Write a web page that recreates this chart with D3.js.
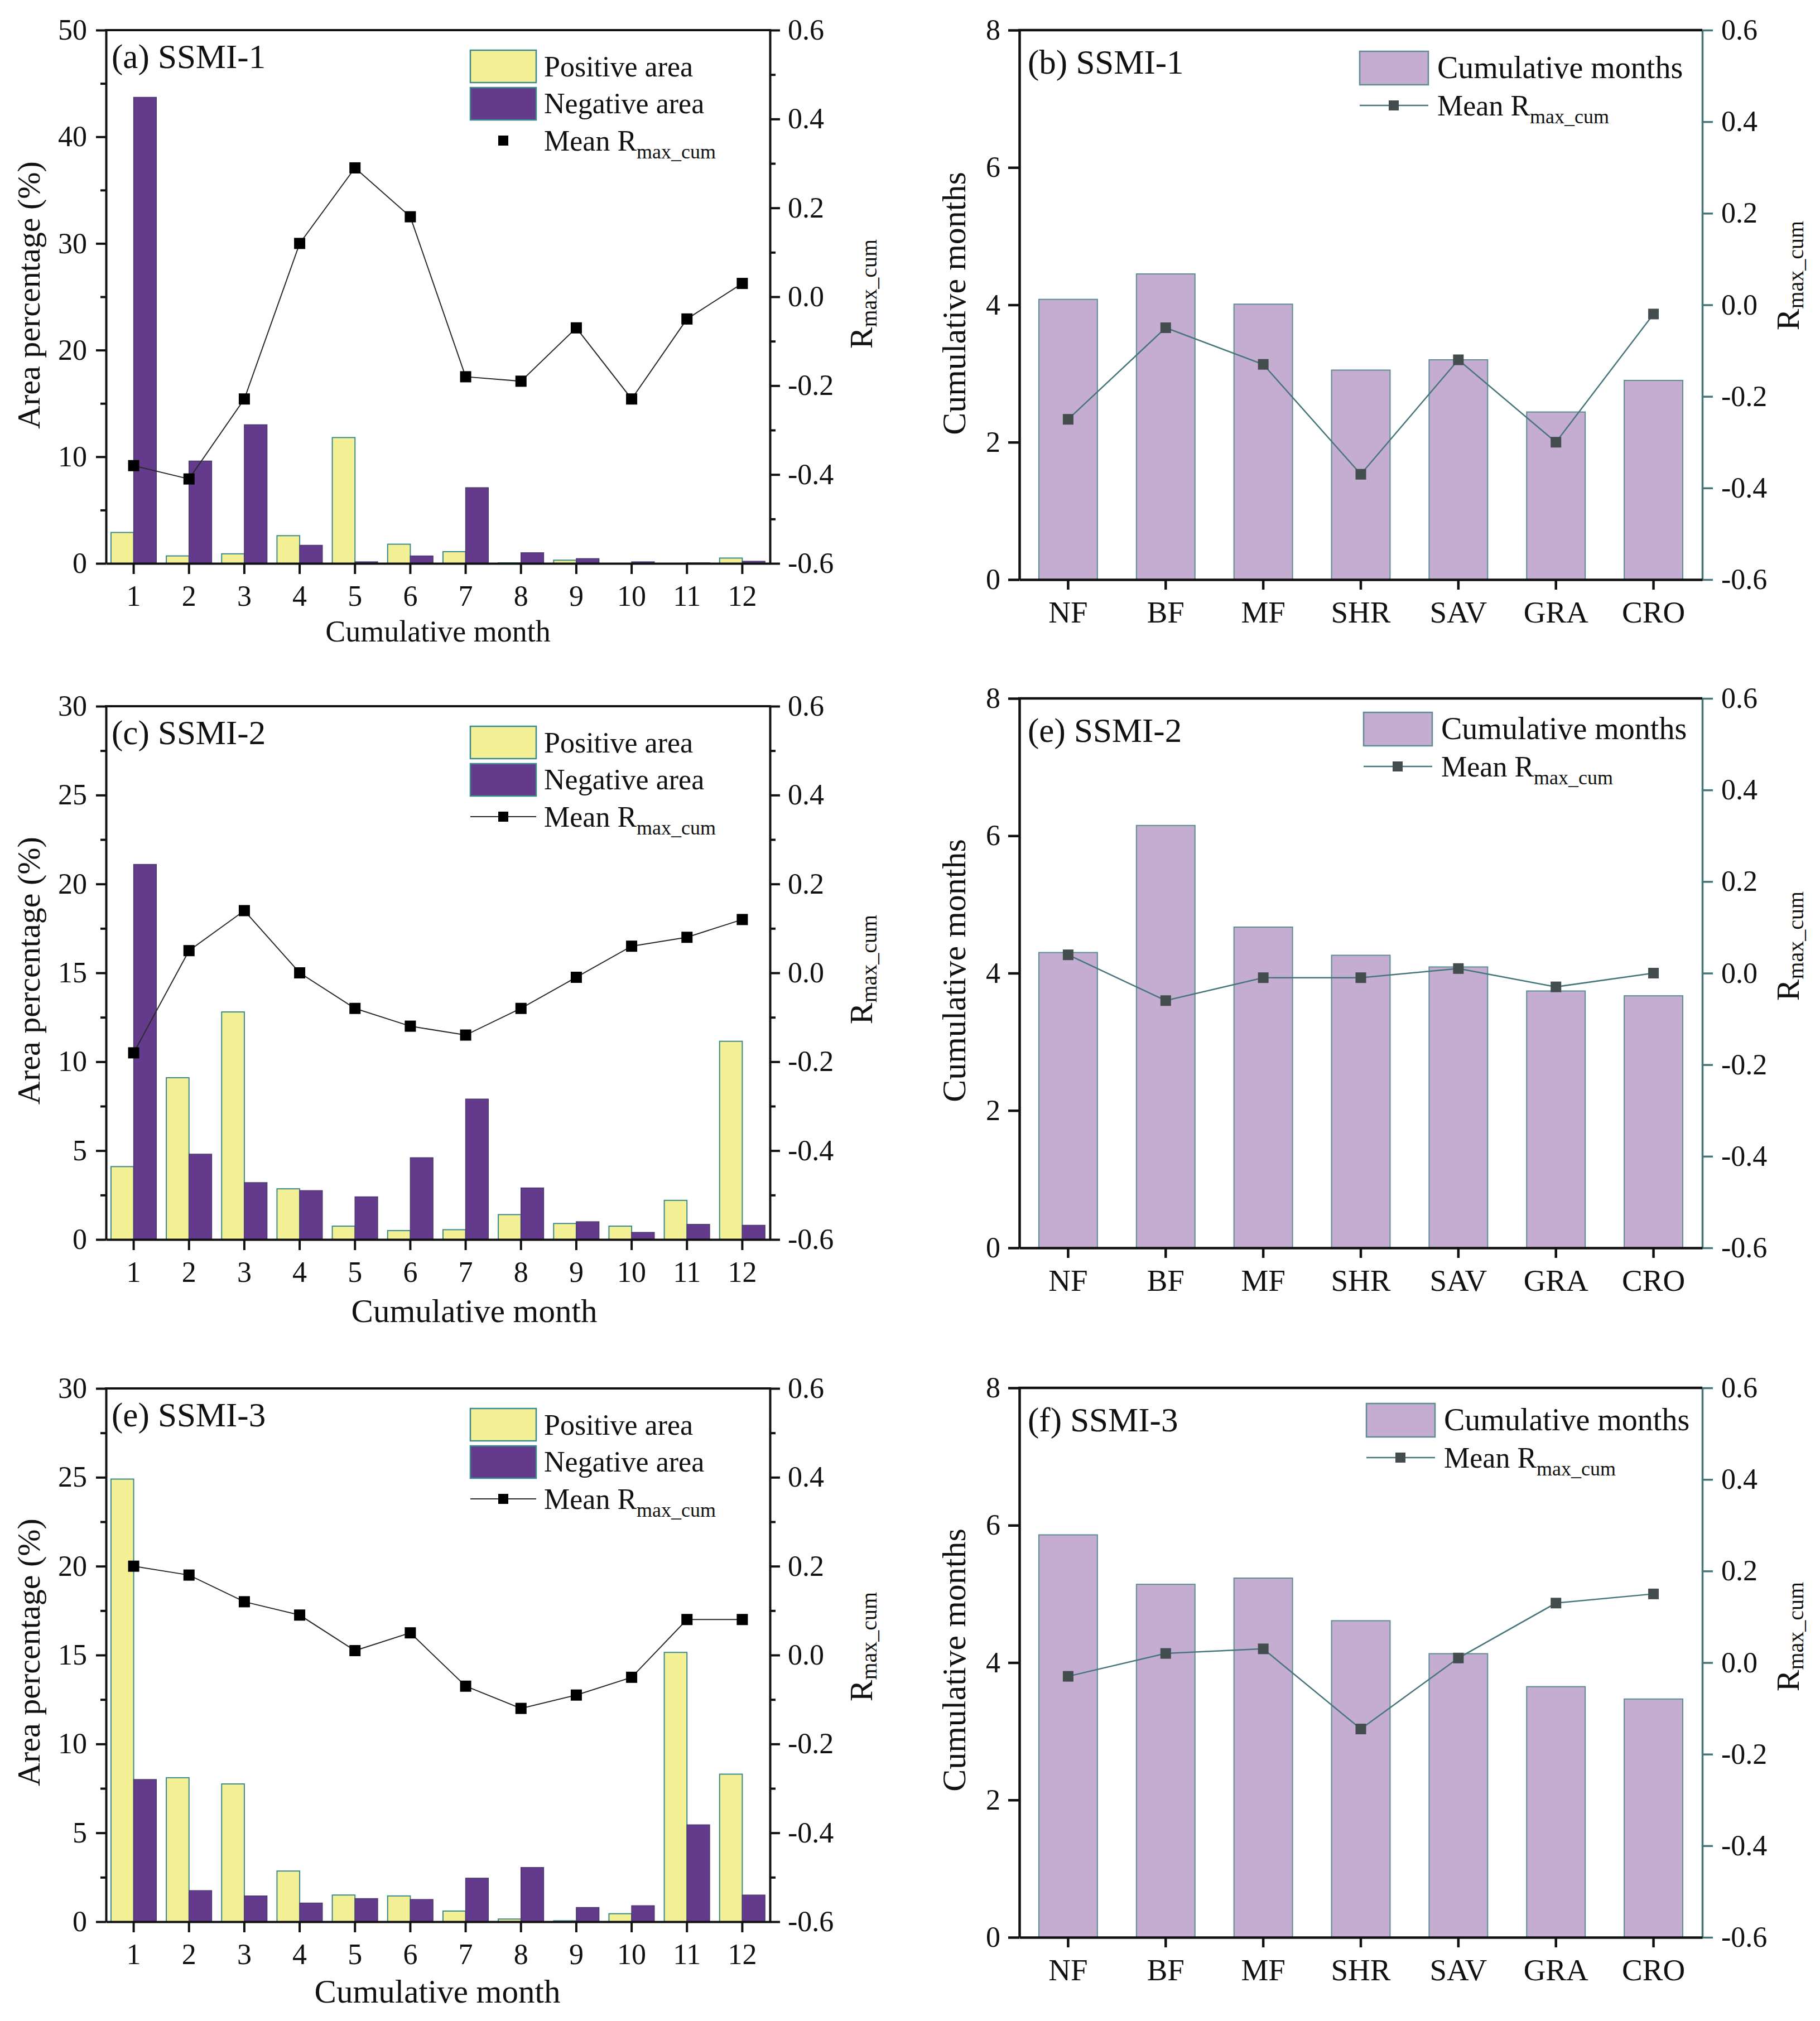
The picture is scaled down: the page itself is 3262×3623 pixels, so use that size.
<!DOCTYPE html>
<html>
<head>
<meta charset="utf-8">
<script src="https://cdn.jsdelivr.net/npm/d3@7"></script>
<style>
  html, body { margin: 0; padding: 0; background: #ffffff; }
  svg { display: block; }
  text { font-family: "Liberation Serif", "Times New Roman", serif; fill: #111; }
</style>
</head>
<body>
<svg id="chart" width="3262" height="3623"></svg>
<script>
// ---------------- DATA ----------------
const monthTicks = ["1","2","3","4","5","6","7","8","9","10","11","12"];

const ssmi1Positive = [2.9, 0.7, 0.9, 2.6, 11.8, 1.8, 1.1, 0.05, 0.3, 0.0, 0.0, 0.5];
const ssmi1Negative = [43.7, 9.6, 13.0, 1.7, 0.15, 0.7, 7.1, 1.0, 0.45, 0.15, 0.05, 0.2];
const ssmi1MeanR    = [-0.38, -0.41, -0.23, 0.12, 0.29, 0.18, -0.18, -0.19, -0.07, -0.23, -0.05, 0.03];

const ssmi2Positive = [4.1, 9.1, 12.8, 2.85, 0.75, 0.5, 0.55, 1.4, 0.9, 0.75, 2.2, 11.15];
const ssmi2Negative = [21.1, 4.8, 3.2, 2.75, 2.4, 4.6, 7.9, 2.9, 1.0, 0.4, 0.85, 0.8];
const ssmi2MeanR    = [-0.18, 0.05, 0.14, 0.0, -0.08, -0.12, -0.14, -0.08, -0.01, 0.06, 0.08, 0.12];

const ssmi3Positive = [24.9, 8.1, 7.75, 2.85, 1.5, 1.45, 0.6, 0.15, 0.05, 0.45, 15.15, 8.3];
const ssmi3Negative = [8.0, 1.75, 1.45, 1.05, 1.3, 1.25, 2.45, 3.05, 0.8, 0.9, 5.45, 1.5];
const ssmi3MeanR    = [0.20, 0.18, 0.12, 0.09, 0.01, 0.05, -0.07, -0.12, -0.09, -0.05, 0.08, 0.08];

const landCovers = ["NF","BF","MF","SHR","SAV","GRA","CRO"];
const ssmi1CumMonths = [4.08, 4.45, 4.01, 3.05, 3.2, 2.44, 2.9];
const ssmi1LandR     = [-0.25, -0.05, -0.13, -0.37, -0.12, -0.30, -0.02];
const ssmi2CumMonths = [4.3, 6.15, 4.67, 4.26, 4.09, 3.74, 3.67];
const ssmi2LandR     = [0.04, -0.06, -0.01, -0.01, 0.01, -0.03, 0.0];
const ssmi3CumMonths = [5.86, 5.14, 5.23, 4.61, 4.13, 3.65, 3.47];
const ssmi3LandR     = [-0.03, 0.02, 0.03, -0.145, 0.01, 0.13, 0.15];

const areaTicks50 = [0, 10, 20, 30, 40, 50];
const areaTicks30 = [0, 5, 10, 15, 20, 25, 30];
const cumTicks = [0, 2, 4, 6, 8];
const rTicks = [-0.6, -0.4, -0.2, 0.0, 0.2, 0.4, 0.6];

// ---------------- STYLE ----------------
const FONT = '"Liberation Serif", "Times New Roman", serif';
const C = {
  yellow: "#f3f096", yellowStroke: "#3d8a8c",
  purple: "#643b8c", purpleStroke: "#4b3a6e",
  lilac: "#c5acd1", lilacStroke: "#5d8c92",
  teal: "#46767b", tealText: "#3d656b",
  lineDark: "#2a2a2a", markerRight: "#434d4e"
};
const fmtR = v => { const s = Math.abs(v) < 1e-9 ? "0.0" : v.toFixed(1); return s; };

const svg = d3.select("#chart");
svg.append("rect").attr("width", 3262).attr("height", 3623).attr("fill", "#fff");

function styleAxis(g, color, width, fontSize, textColor) {
  g.select(".domain").attr("stroke", color).attr("stroke-width", width);
  g.selectAll(".tick line").attr("stroke", color).attr("stroke-width", width);
  g.selectAll(".tick text").attr("font-family", FONT).attr("font-size", fontSize)
    .attr("fill", textColor || "#111");
}

function rTitle(g, x, y, big, small) {
  const t = g.append("text")
    .attr("transform", `translate(${x},${y}) rotate(-90)`)
    .attr("text-anchor", "middle")
    .attr("dominant-baseline", "central");
  t.append("tspan").attr("font-size", big).text("R");
  t.append("tspan").attr("font-size", small).attr("dy", small * 0.35).text("max_cum");
}

function meanRLegendText(g, x, y, big, small) {
  const t = g.append("text").attr("x", x).attr("y", y).attr("font-size", big);
  t.append("tspan").text("Mean R");
  t.append("tspan").attr("font-size", small).attr("dy", small * 0.38).text("max_cum");
}

// ---------------- LEFT PANELS ----------------
function areaPanel(cfg) {
  const L = 190, R = 1380, T = cfg.top, B = cfg.top + 956;
  const g = svg.append("g");
  const x = d3.scaleBand().domain(monthTicks).range([L, R]).paddingInner(0.18).paddingOuter(0.09);
  const bw = x.bandwidth();
  const y = d3.scaleLinear().domain([0, cfg.yMax]).range([B, T]);
  const yR = d3.scaleLinear().domain([-0.6, 0.6]).range([B, T]);

  // bars
  g.selectAll(".pos").data(cfg.positive).join("rect")
    .attr("x", (d, i) => x(monthTicks[i])).attr("width", bw / 2)
    .attr("y", d => y(d)).attr("height", d => B - y(d))
    .attr("fill", C.yellow).attr("stroke", C.yellowStroke).attr("stroke-width", 2);
  g.selectAll(".neg").data(cfg.negative).join("rect")
    .attr("x", (d, i) => x(monthTicks[i]) + bw / 2).attr("width", bw / 2)
    .attr("y", d => y(d)).attr("height", d => B - y(d))
    .attr("fill", C.purple).attr("stroke", C.purpleStroke).attr("stroke-width", 1.5);

  // minor ticks
  const minorL = d3.range(cfg.yStep / 2, cfg.yMax, cfg.yStep);
  const gml = g.append("g").attr("transform", `translate(${L},0)`)
    .call(d3.axisLeft(y).tickValues(minorL).tickSize(10).tickFormat(""));
  gml.select(".domain").remove();
  gml.selectAll("line").attr("stroke", "#111").attr("stroke-width", 4);
  const minorR = d3.range(-0.5, 0.6, 0.2);
  const gmr = g.append("g").attr("transform", `translate(${R},0)`)
    .call(d3.axisRight(yR).tickValues(minorR).tickSize(10).tickFormat(""));
  gmr.select(".domain").remove();
  gmr.selectAll("line").attr("stroke", "#111").attr("stroke-width", 4);

  // axes
  const gl = g.append("g").attr("transform", `translate(${L},0)`)
    .call(d3.axisLeft(y).tickValues(cfg.yTicks).tickSize(18).tickSizeOuter(0).tickPadding(16).tickFormat(d3.format("d")));
  styleAxis(gl, "#111", 4, 52);
  const gr = g.append("g").attr("transform", `translate(${R},0)`)
    .call(d3.axisRight(yR).tickValues(rTicks).tickSize(18).tickSizeOuter(0).tickPadding(14).tickFormat(fmtR));
  styleAxis(gr, "#111", 4, 52);
  const gb = g.append("g").attr("transform", `translate(0,${B})`)
    .call(d3.axisBottom(x).tickSize(19).tickSizeOuter(0).tickPadding(20));
  styleAxis(gb, "#111", 4, 52);
  g.append("line").attr("x1", L - 2).attr("x2", R + 2).attr("y1", T).attr("y2", T)
    .attr("stroke", "#111").attr("stroke-width", 4);

  // line + markers
  const cx = i => x(monthTicks[i]) + bw / 2;
  g.append("path").datum(cfg.meanR)
    .attr("d", d3.line().x((d, i) => cx(i)).y(d => yR(d)))
    .attr("fill", "none").attr("stroke", C.lineDark).attr("stroke-width", 2);
  const ms = 20;
  g.selectAll(".mk").data(cfg.meanR).join("rect")
    .attr("x", (d, i) => cx(i) - ms / 2).attr("y", d => yR(d) - ms / 2)
    .attr("width", ms).attr("height", ms).attr("fill", "#000");

  // panel label
  g.append("text").attr("x", 200).attr("y", T + 68).attr("font-size", 61).text(cfg.label);

  // legend
  const lx = 843;
  g.append("rect").attr("x", lx).attr("y", T + 36).attr("width", 118).attr("height", 58)
    .attr("fill", C.yellow).attr("stroke", C.yellowStroke).attr("stroke-width", 2.5);
  g.append("rect").attr("x", lx).attr("y", T + 103).attr("width", 118).attr("height", 58)
    .attr("fill", C.purple).attr("stroke", C.yellowStroke).attr("stroke-width", 2.5);
  if (cfg.legendLine) {
    g.append("line").attr("x1", lx).attr("x2", lx + 118).attr("y1", T + 198).attr("y2", T + 198)
      .attr("stroke", C.lineDark).attr("stroke-width", 2);
  }
  g.append("rect").attr("x", lx + 59 - 9).attr("y", T + 198 - 9).attr("width", 18).attr("height", 18).attr("fill", "#000");
  g.append("text").attr("x", 975).attr("y", T + 83).attr("font-size", 52).text("Positive area");
  g.append("text").attr("x", 975).attr("y", T + 149).attr("font-size", 52).text("Negative area");
  meanRLegendText(g, 975, T + 216, 52, 36);

  // titles
  g.append("text").attr("transform", `translate(51,${cfg.yTitleY}) rotate(-90)`)
    .attr("text-anchor", "middle").attr("dominant-baseline", "central")
    .attr("font-size", 58).text("Area percentage (%)");
  g.append("text").attr("x", cfg.xTitleX).attr("y", B + cfg.xTitleDy)
    .attr("text-anchor", "middle").attr("font-size", cfg.xTitleSize).text("Cumulative month");
  rTitle(g, 1543, cfg.rTitleY, 58, 40);
}

// ---------------- RIGHT PANELS ----------------
function landPanel(cfg) {
  const L = 1827, R = 3051, T = cfg.top, B = cfg.top + 985;
  const g = svg.append("g");
  const x = d3.scaleBand().domain(landCovers).range([L, R]).paddingInner(0.4).paddingOuter(0.2);
  const bw = x.bandwidth();
  const y = d3.scaleLinear().domain([0, 8]).range([B, T]);
  const yR = d3.scaleLinear().domain([-0.6, 0.6]).range([B, T]);

  g.selectAll(".bar").data(cfg.cum).join("rect")
    .attr("x", (d, i) => x(landCovers[i])).attr("width", bw)
    .attr("y", d => y(d)).attr("height", d => B - y(d))
    .attr("fill", C.lilac).attr("stroke", C.lilacStroke).attr("stroke-width", 2);

  const gl = g.append("g").attr("transform", `translate(${L},0)`)
    .call(d3.axisLeft(y).tickValues(cumTicks).tickSize(20).tickSizeOuter(0).tickPadding(14).tickFormat(d3.format("d")));
  styleAxis(gl, "#111", 4.5, 52);
  const gr = g.append("g").attr("transform", `translate(${R},0)`)
    .call(d3.axisRight(yR).tickValues(rTicks).tickSize(19).tickSizeOuter(0).tickPadding(15).tickFormat(fmtR));
  styleAxis(gr, C.teal, 3.5, 52, C.tealText);
  const gb = g.append("g").attr("transform", `translate(0,${B})`)
    .call(d3.axisBottom(x).tickSize(18).tickSizeOuter(0).tickPadding(20));
  styleAxis(gb, "#111", 4.5, 55);
  g.append("line").attr("x1", L - 2).attr("x2", R).attr("y1", T).attr("y2", T)
    .attr("stroke", "#111").attr("stroke-width", 4.5);

  const cx = i => x(landCovers[i]) + bw / 2;
  g.append("path").datum(cfg.r)
    .attr("d", d3.line().x((d, i) => cx(i)).y(d => yR(d)))
    .attr("fill", "none").attr("stroke", C.teal).attr("stroke-width", 2.5);
  const ms = 19;
  g.selectAll(".mk").data(cfg.r).join("rect")
    .attr("x", (d, i) => cx(i) - ms / 2).attr("y", d => yR(d) - ms / 2)
    .attr("width", ms).attr("height", ms).attr("fill", C.markerRight);

  g.append("text").attr("x", 1842).attr("y", T + 78).attr("font-size", 61).text(cfg.label);

  // legend
  const lx = cfg.legX, ly = T + cfg.legDy;
  g.append("rect").attr("x", lx).attr("y", ly).attr("width", 123).attr("height", 60)
    .attr("fill", C.lilac).attr("stroke", C.lilacStroke).attr("stroke-width", 2.5);
  g.append("text").attr("x", lx + 139).attr("y", ly + 48).attr("font-size", 56).text("Cumulative months");
  g.append("line").attr("x1", lx).attr("x2", lx + 123).attr("y1", ly + 97).attr("y2", ly + 97)
    .attr("stroke", C.teal).attr("stroke-width", 2.5);
  g.append("rect").attr("x", lx + 61 - 9).attr("y", ly + 97 - 9).attr("width", 18).attr("height", 18).attr("fill", C.markerRight);
  meanRLegendText(g, lx + 139, ly + 115, 52, 36);

  g.append("text").attr("transform", `translate(1710,${cfg.yTitleY}) rotate(-90)`)
    .attr("text-anchor", "middle").attr("dominant-baseline", "central")
    .attr("font-size", 60).text("Cumulative months");
  rTitle(g, 3204, cfg.rTitleY, 58, 40);
}

areaPanel({ top: 54, yMax: 50, yStep: 10, yTicks: areaTicks50, positive: ssmi1Positive, negative: ssmi1Negative,
  meanR: ssmi1MeanR, label: "(a) SSMI-1", legendLine: false, xTitleX: 785, xTitleDy: 140, xTitleSize: 54,
  yTitleY: 529, rTitleY: 527 });
areaPanel({ top: 1266, yMax: 30, yStep: 5, yTicks: areaTicks30, positive: ssmi2Positive, negative: ssmi2Negative,
  meanR: ssmi2MeanR, label: "(c) SSMI-2", legendLine: true, xTitleX: 850, xTitleDy: 148, xTitleSize: 59,
  yTitleY: 1740, rTitleY: 1738 });
areaPanel({ top: 2489, yMax: 30, yStep: 5, yTicks: areaTicks30, positive: ssmi3Positive, negative: ssmi3Negative,
  meanR: ssmi3MeanR, label: "(e) SSMI-3", legendLine: true, xTitleX: 784, xTitleDy: 145, xTitleSize: 59,
  yTitleY: 2962, rTitleY: 2952 });

landPanel({ top: 54, cum: ssmi1CumMonths, r: ssmi1LandR, label: "(b) SSMI-1", legX: 2437, legDy: 38,
  yTitleY: 544, rTitleY: 494 });
landPanel({ top: 1252, cum: ssmi2CumMonths, r: ssmi2LandR, label: "(e) SSMI-2", legX: 2444, legDy: 25,
  yTitleY: 1740, rTitleY: 1696 });
landPanel({ top: 2488, cum: ssmi3CumMonths, r: ssmi3LandR, label: "(f) SSMI-3", legX: 2449, legDy: 28,
  yTitleY: 2976, rTitleY: 2934 });
</script>
</body>
</html>
